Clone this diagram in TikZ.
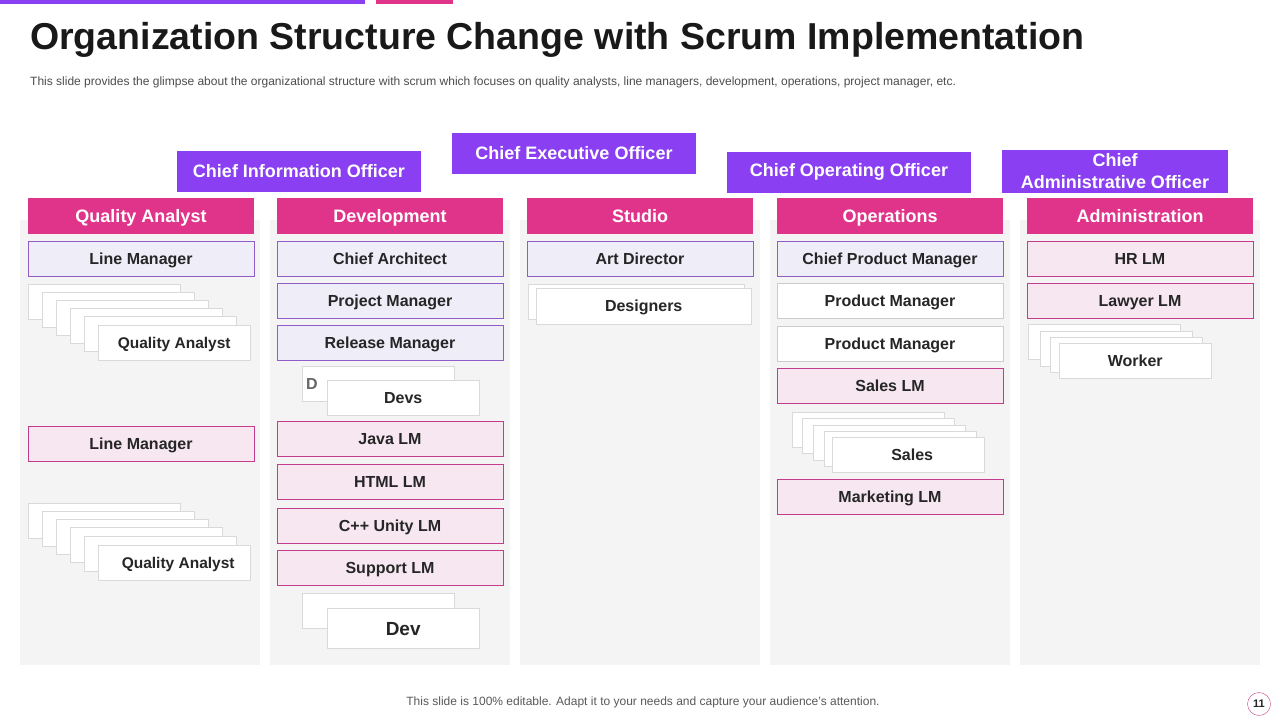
\documentclass[tikz,border=0pt]{standalone}
\usepackage{fontspec}
\setmainfont{Liberation Sans}
\usetikzlibrary{positioning}
\definecolor{vio}{HTML}{8A3FF2}
\definecolor{rose}{HTML}{E0338A}
\definecolor{lavfill}{HTML}{EFEEF8}
\definecolor{lavline}{HTML}{8F5CC9}
\definecolor{pinkfill}{HTML}{F7E7F0}
\definecolor{pinkline}{HTML}{C43C8C}
\definecolor{panel}{HTML}{F4F4F5}
\definecolor{ink}{HTML}{262626}
\tikzset{
  chief/.style = {fill=vio, text=white, font=\bfseries\fontsize{18}{19}\selectfont,
                  minimum width=244pt, minimum height=41pt, inner sep=1pt, align=center},
  head/.style  = {fill=rose, text=white, font=\bfseries\fontsize{18}{20}\selectfont,
                  minimum width=226pt, minimum height=36pt, inner sep=0pt,
                  text height=13pt, text depth=0pt},
  lav/.style   = {draw=lavline, fill=lavfill, text=ink, font=\bfseries\fontsize{16}{18}\selectfont,
                  minimum width=226pt, minimum height=35pt, inner sep=0pt,
                  text height=11.5pt, text depth=0pt},
  pnk/.style   = {lav, draw=pinkline, fill=pinkfill},
  wht/.style   = {lav, draw=black!20, fill=white},
  card/.style  = {draw=black!15, fill=white, minimum width=152pt, minimum height=35pt,
                  inner sep=0pt, anchor=north west, text=ink, text height=11.5pt, text depth=0pt,
                  font=\bfseries\fontsize{16}{18}\selectfont},
}
\begin{document}
\begin{tikzpicture}[x=1pt, y=-1pt]
    \useasboundingbox (0,0) rectangle (1280,720);
    \fill[white] (0,0) rectangle (1280,720);

    % top bars, title
    \fill[vio] (0,0) rectangle (365,4);
    \fill[rose] (376,0) rectangle (453,4);
    \node[anchor=west, inner sep=0pt, text=black!90, font=\bfseries\fontsize{37.5}{40}\selectfont]
      (title) at (30,40) {Organization Structure Change with Scrum Implementation};
    \node[anchor=west, inner sep=0pt, text=black!70, font=\fontsize{12}{14}\selectfont]
      (sub) at (30,82) {This slide provides the glimpse about the organizational structure with scrum which focuses on quality analysts, line managers, development, operations, project manager, etc.};

    % panels
    \foreach \px in {20,270,520,770,1020}
      \fill[panel] (\px,220) rectangle ++(240,445);

    % chiefs
    \node[chief] (cio) at (299,171) {Chief Information Officer};
    \node[chief] (ceo) at (574,153) {Chief Executive Officer};
    \node[chief] (coo) at (849,172) {Chief Operating Officer};
    \node[chief, minimum width=226pt, minimum height=43pt, font=\bfseries\fontsize{18}{22}\selectfont]
      (cao) at (1115,171) {Chief\\Administrative Officer};

    % headers
    \node[head] (qa)  at (141,216) {Quality Analyst};
    \node[head] (dev) at (390,216) {Development};
    \node[head] (stu) at (640,216) {Studio};
    \node[head] (ops) at (890,216) {Operations};
    \node[head] (adm) at (1140,216) {Administration};

    % quality analyst
    \node[lav] (lm1) at (141,259) {Line Manager};
    \foreach \i/\cx/\cy in {1/28/284,2/42/292,3/56/300,4/70/308,5/84/316}
      \node[card] (qs\i) at (\cx,\cy) {};
    \node[card, font=\bfseries\fontsize{15.5}{18}\selectfont] (qaA) at (98,325) {Quality Analyst};
    \node[pnk] (lm2) at (141,444) {Line Manager};
    \foreach \i/\cx/\cy in {1/28/503,2/42/511,3/56/519,4/70/527,5/84/536}
      \node[card] (qt\i) at (\cx,\cy) {};
    \node[card, font=\bfseries\fontsize{15.5}{18}\selectfont] (qaB) at (98,545) {\hspace*{8pt}Quality Analyst};

    % development
    \node[lav] (arch) at (390,259) {Chief Architect};
    \node[lav] (pm)   at (390,301) {Project Manager};
    \node[lav] (rm)   at (390,343) {Release Manager};
    \node[card, text=black!60, minimum width=0pt, text width=144pt, align=left, inner xsep=4pt]
      (dback) at (302,366) {D};
    \node[card] (devs) at (327,380) {Devs};
    \node[pnk] (java) at (390,439) {Java LM};
    \node[pnk] (html) at (390,482) {HTML LM};
    \node[pnk] (cpp)  at (390,526) {C++ Unity LM};
    \node[pnk] (sup)  at (390,568) {Support LM};
    \node[card] (dev2back) at (302,593) {};
    \node[card, minimum height=40pt, text height=14pt, font=\bfseries\fontsize{19}{21}\selectfont] (devx) at (327,608) {Dev};

    % studio
    \node[lav] (art) at (640,259) {Art Director};
    \node[card, minimum width=216pt] (desback) at (528,284) {};
    \node[card, minimum width=215pt, minimum height=36pt] (des) at (536,288) {Designers};

    % operations
    \node[lav] (cpm) at (890,259) {Chief Product Manager};
    \node[wht] (pm1) at (890,301) {Product Manager};
    \node[wht] (pm2) at (890,344) {Product Manager};
    \node[pnk] (slm) at (890,386) {Sales LM};
    \foreach \i/\cx/\cy in {1/792/412,2/802/418,3/813/425,4/824/431}
      \node[card] (ss\i) at (\cx,\cy) {};
    \node[card] (sales) at (832,437) {\hspace*{8pt}Sales};
    \node[pnk] (mlm) at (890,497) {Marketing LM};

    % administration
    \node[pnk] (hr)  at (1140,259) {HR LM};
    \node[pnk] (law) at (1140,301) {Lawyer LM};
    \foreach \i/\cx/\cy in {1/1028/324,2/1040/331,3/1050/337}
      \node[card] (ws\i) at (\cx,\cy) {};
    \node[card] (work) at (1059,343) {Worker};

    % footer
    \node[text=black!65, font=\fontsize{12}{14}\selectfont] (foot) at (643,702)
      {This slide is 100\% editable. Adapt it to your needs and capture your audience’s attention.};
    \node[draw=pinkline, circle, minimum size=23pt, inner sep=0pt, text=ink,
          font=\bfseries\fontsize{11}{12}\selectfont] (pg) at (1259,704) {11};
\end{tikzpicture}
\end{document}
